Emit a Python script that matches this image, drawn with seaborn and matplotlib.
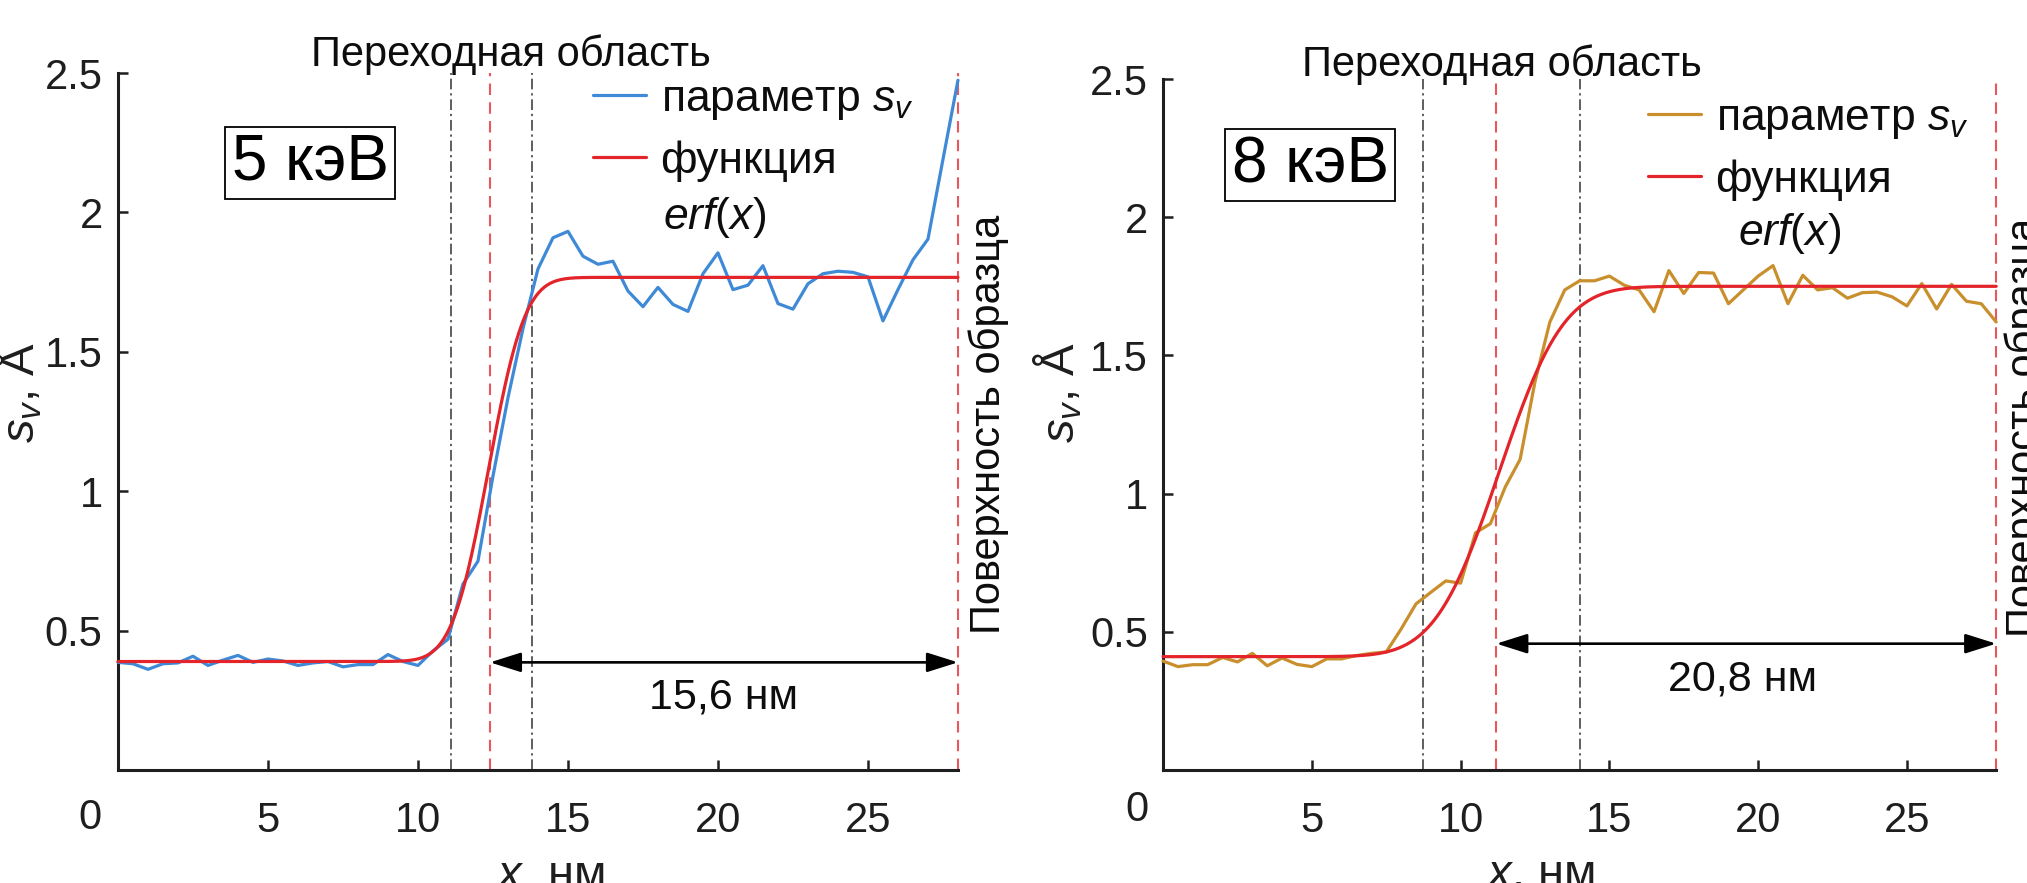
import numpy as np
import pandas as pd
import matplotlib
matplotlib.use("Agg")
import matplotlib.pyplot as plt
import matplotlib.transforms as mtransforms
import seaborn as sns
from math import erf

# ---------------- data ----------------
x_nm = [0.0, 0.5, 1.0, 1.5, 2.0, 2.5, 3.0, 3.5, 4.0, 4.5, 5.0, 5.5, 6.0, 6.5,
        7.0, 7.5, 8.0, 8.5, 9.0, 9.5, 10.0, 10.5, 11.0, 11.5, 12.0, 12.5,
        13.0, 13.5, 14.0, 14.5, 15.0, 15.5, 16.0, 16.5, 17.0, 17.5, 18.0,
        18.5, 19.0, 19.5, 20.0, 20.5, 21.0, 21.5, 22.0, 22.5, 23.0, 23.5,
        24.0, 24.5, 25.0, 25.5, 26.0, 26.5, 27.0, 27.5, 28.0]

sv_5kev = [0.386, 0.381, 0.361, 0.381, 0.384, 0.408, 0.375, 0.394, 0.411,
           0.386, 0.398, 0.391, 0.375, 0.384, 0.389, 0.370, 0.378, 0.378,
           0.414, 0.389, 0.375, 0.427, 0.469, 0.667, 0.749, 1.054, 1.335,
           1.583, 1.797, 1.909, 1.932, 1.843, 1.814, 1.825, 1.718, 1.662,
           1.731, 1.670, 1.645, 1.780, 1.855, 1.723, 1.739, 1.809, 1.673,
           1.653, 1.744, 1.780, 1.789, 1.785, 1.769, 1.611, 1.723, 1.830,
           1.904, 2.190, 2.474]

sv_8kev = [0.394, 0.374, 0.381, 0.381, 0.407, 0.391, 0.422, 0.377, 0.405,
           0.382, 0.374, 0.402, 0.402, 0.414, 0.422, 0.427, 0.510, 0.601,
           0.643, 0.684, 0.676, 0.858, 0.891, 1.024, 1.124, 1.405, 1.621,
           1.737, 1.770, 1.770, 1.787, 1.754, 1.737, 1.658, 1.807, 1.724,
           1.800, 1.798, 1.687, 1.737, 1.787, 1.825, 1.687, 1.790, 1.737,
           1.745, 1.707, 1.727, 1.729, 1.712, 1.679, 1.760, 1.668, 1.757,
           1.696, 1.687, 1.621]

# erf(x) fit parameters: low level, high level, centre, width (nm)
fit_5kev = {"low": 0.389, "high": 1.767, "center": 12.35, "width": 1.35}
fit_8kev = {"low": 0.410, "high": 1.750, "center": 11.30, "width": 2.40}

transition_5kev = [11.1, 13.8]     # black dash-dot lines
transition_8kev = [8.75, 14.0]
surface_5kev = [12.4, 28.0]        # red dashed lines
surface_8kev = [11.2, 28.0]
arrow_y_5kev = 0.386
arrow_y_8kev = 0.457
width_label_5kev = "15,6 нм"
width_label_8kev = "20,8 нм"
energy_5kev = "5 кэВ"
energy_8kev = "8 кэВ"

x_ticks = [5, 10, 15, 20, 25]
x_ticklabels = ["5", "10", "15", "20", "25"]
y_ticks = [0.5, 1.0, 1.5, 2.0, 2.5]
y_ticklabels = ["0.5", "1", "1.5", "2", "2.5"]

title_text = "Переходная область"
surface_text = "Поверхность образца"
legend_labels = ["параметр $s_v$", "функция"]
erf_text = "$erf$($x$)"
xlabel_text = "$x$, нм"
ylabel_text = "$s_v$, Å"

# ---------------- style ----------------
sns.set_style("ticks")
plt.rcParams["font.family"] = ["Liberation Sans", "DejaVu Sans"]
plt.rcParams["mathtext.fontset"] = "custom"
plt.rcParams["mathtext.rm"] = "Liberation Sans"
plt.rcParams["mathtext.it"] = "Liberation Sans:italic"
plt.rcParams["mathtext.bf"] = "Liberation Sans:bold"

INK = "#1e1e1e"
TXT = "#0d0d0d"
BLUE = "#3f8ad6"
ORANGE = "#c98f2c"
RED = "#e3242b"
RED_DASH = "#e8575c"

fig = plt.figure(figsize=(20.27, 8.83), dpi=100)
ax1 = fig.add_axes([0.0582, 0.128, 0.4144, 0.7893])
ax2 = fig.add_axes([0.5738, 0.128, 0.4110, 0.7825])


def erf_curve(p):
    xs = np.linspace(0.0, 28.0, 600)
    ys = [p["low"] + (p["high"] - p["low"]) * 0.5 * (1.0 + erf((v - p["center"]) / p["width"])) for v in xs]
    return xs, np.array(ys)


panels = [
    dict(ax=ax1, sv=sv_5kev, color=BLUE, fit=fit_5kev, trans=transition_5kev,
         surf=surface_5kev, arrow_y=arrow_y_5kev, wlabel=width_label_5kev,
         wpos=(20.2, 0.261), energy=energy_5kev, epos=(0.229, 0.871),
         title_x=13.1, title_y=1.0100, leg=(0.5655, 0.992), erf_pos=(0.6488, 0.7934),
         surf_x=1.012, zero=(-0.033, -0.069), ylab=(-0.119, 0.542), xlab=(0.515, -0.169)),
    dict(ax=ax2, sv=sv_8kev, color=ORANGE, fit=fit_8kev, trans=transition_8kev,
         surf=surface_8kev, arrow_y=arrow_y_8kev, wlabel=width_label_8kev,
         wpos=(19.46, 0.327), energy=energy_8kev, epos=(0.1765, 0.8755),
         title_x=11.4, title_y=1.004, leg=(0.582, 0.973), erf_pos=(0.6897, 0.777),
         surf_x=1.0096, zero=(-0.031, -0.058), ylab=(-0.1261, 0.547), xlab=(0.453, -0.169)),
]

for p in panels:
    ax = p["ax"]
    df = pd.DataFrame({"x": x_nm, "sv": p["sv"]})
    fx, fy = erf_curve(p["fit"])
    dfit = pd.DataFrame({"x": fx, "fit": fy})

    # vertical guide lines
    for xv in p["trans"]:
        ax.axvline(xv, color="#333333", lw=1.1, dashes=(7, 2.5, 1.5, 2.5), clip_on=False, zorder=1)
    for xv in p["surf"]:
        ax.axvline(xv, color=RED_DASH, lw=1.5, dashes=(5.5, 3.5), clip_on=False, zorder=1)

    sns.lineplot(data=df, x="x", y="sv", ax=ax, color=p["color"], lw=2.3, zorder=3, clip_on=False)
    sns.lineplot(data=dfit, x="x", y="fit", ax=ax, color=RED, lw=2.3, zorder=4, clip_on=False)
    h_sv, h_fit = ax.get_lines()[-2], ax.get_lines()[-1]

    ax.set_xlim(0, 28)
    ax.set_ylim(0, 2.5)
    ax.set_xticks(x_ticks)
    ax.set_xticklabels(x_ticklabels)
    ax.set_yticks(y_ticks)
    ax.set_yticklabels(y_ticklabels)
    ax.set_xlabel("")
    ax.set_ylabel("")
    for s in ["top", "right"]:
        ax.spines[s].set_visible(False)
    for s in ["left", "bottom"]:
        ax.spines[s].set_linewidth(2.2)
        ax.spines[s].set_color(INK)
    ax.tick_params(direction="in", length=7, width=1.8, colors=INK, labelsize=30)
    ax.tick_params(axis="x", pad=22)
    ax.tick_params(axis="y", pad=11)

    # legend
    leg = ax.legend([h_sv, h_fit], legend_labels, loc="upper left",
                    bbox_to_anchor=p["leg"], frameon=False, fontsize=32,
                    handlelength=1.2, handletextpad=0.32, labelspacing=0.42,
                    borderpad=0, borderaxespad=0)
    for t in leg.get_texts():
        t.set_color(TXT)
    ax.text(*p["erf_pos"], erf_text, transform=ax.transAxes, fontsize=32,
            ha="left", va="center", color=TXT)

    # width arrow
    ax.annotate("", xy=(p["surf"][1], p["arrow_y"]), xytext=(p["surf"][0], p["arrow_y"]),
                arrowprops=dict(arrowstyle="<|-|>,head_length=0.95,head_width=0.3",
                                mutation_scale=20, lw=1.9, color="black",
                                shrinkA=0, shrinkB=0), zorder=5)
    ax.text(*p["wpos"], p["wlabel"], fontsize=31, ha="center", va="center", color=TXT)

    # energy box
    ax.text(*p["epos"], p["energy"], transform=ax.transAxes, fontsize=46,
            ha="center", va="center", color="black",
            bbox=dict(boxstyle="square,pad=0.1", fc="white", ec="black", lw=1.3))

    # title above transition region
    tr = mtransforms.blended_transform_factory(ax.transData, ax.transAxes)
    ax.text(p["title_x"], p["title_y"], title_text, transform=tr, fontsize=30,
            ha="center", va="baseline", color=TXT, clip_on=False)

    # rotated surface label
    ax.text(p["surf_x"], 0.496, surface_text, transform=ax.transAxes, fontsize=30,
            rotation=90, ha="left", va="center", color=TXT, clip_on=False)

    # shared origin "0"
    ax.text(*p["zero"], "0", transform=ax.transAxes, fontsize=30,
            ha="center", va="center", color=INK, clip_on=False)

    # axis labels
    ax.text(*p["ylab"], ylabel_text, transform=ax.transAxes, fontsize=34,
            rotation=90, ha="center", va="center", color=INK, clip_on=False)
    ax.text(*p["xlab"], xlabel_text, transform=ax.transAxes, fontsize=34,
            ha="center", va="baseline", color=INK, clip_on=False)

fig.savefig("out.png", dpi=100)
